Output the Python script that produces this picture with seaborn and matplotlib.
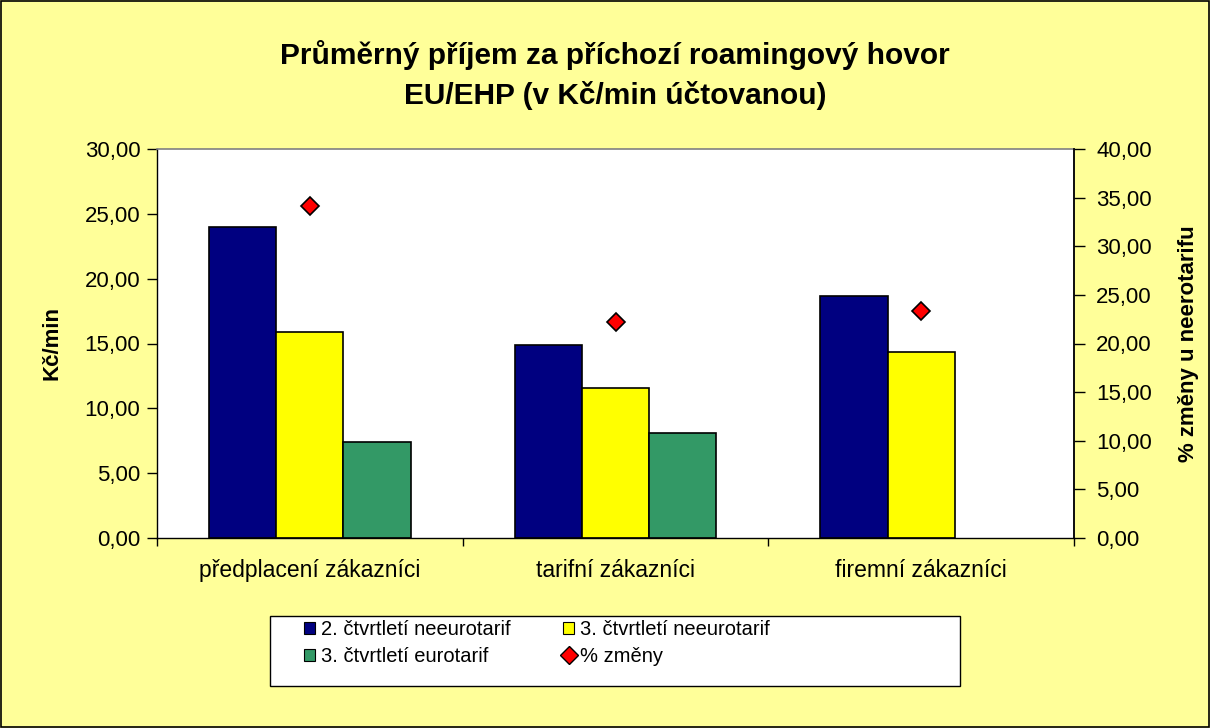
import matplotlib
matplotlib.use("Agg")
import matplotlib.pyplot as plt
import seaborn as sns
import pandas as pd
import numpy as np
from matplotlib.ticker import FuncFormatter, FixedLocator
from matplotlib.patches import Patch, Rectangle
from matplotlib.lines import Line2D

categories = ["předplacení zákazníci", "tarifní zákazníci", "firemní zákazníci"]
series_names = ["2. čtvrtletí neeurotarif", "3. čtvrtletí neeurotarif", "3. čtvrtletí eurotarif"]
q2_neeuro = [24.0, 14.88, 18.66]
q3_neeuro = [15.85, 11.57, 14.34]
q3_euro = [7.40, 8.10, np.nan]
pct_change = [34.1, 22.2, 23.3]
pct_name = "% změny"

colors = ["#000080", "#FFFF00", "#339966"]
bg = "#FFFF99"

sns.set_theme(style="white")
plt.rcParams["font.family"] = ["Liberation Sans", "DejaVu Sans"]
plt.rcParams["text.color"] = "black"
plt.rcParams["axes.labelcolor"] = "black"
plt.rcParams["xtick.color"] = "black"
plt.rcParams["ytick.color"] = "black"

df = pd.DataFrame({
    "kat": categories * 3,
    "serie": [series_names[0]] * 3 + [series_names[1]] * 3 + [series_names[2]] * 3,
    "hodnota": q2_neeuro + q3_neeuro + q3_euro,
})

W, H = 1210, 728
fig = plt.figure(figsize=(12.1, 7.28), dpi=100, facecolor=bg)
fig.patches.append(Rectangle((0.001, 0.001), 0.998, 0.998, transform=fig.transFigure,
                             fill=False, edgecolor="black", linewidth=1.2))
ax = fig.add_axes([157 / W, 1 - 538 / H, (1074 - 157) / W, (538 - 149) / H])
ax.set_facecolor("white")

sns.barplot(data=df, x="kat", y="hodnota", hue="serie", hue_order=series_names,
            order=categories, palette=colors, saturation=1, width=0.66, gap=0, dodge=True,
            edgecolor="black", linewidth=1.2, ax=ax, legend=False, errorbar=None)

ax.set_ylim(0, 30)
ax.set_xlim(-0.5, 2.5)
ax.set_yticks(np.arange(0, 30.01, 5))
fmt = FuncFormatter(lambda v, p: f"{v:.2f}".replace(".", ","))
ax.yaxis.set_major_formatter(fmt)
ax.tick_params(axis="y", labelsize=16, length=7, width=1, direction="out", left=True, color="black", pad=5)
ax.tick_params(axis="x", labelsize=16.5, length=0, pad=15)
ax.xaxis.set_minor_locator(FixedLocator([-0.5, 0.5, 1.5, 2.5]))
ax.tick_params(axis="x", which="minor", length=6, width=1, color="black", bottom=True)
ax.set_xlabel("")
ax.set_ylabel("Kč/min", fontsize=16, fontweight="bold", labelpad=16)
for s in ["top", "right"]:
    ax.spines[s].set_color("#808080")
    ax.spines[s].set_linewidth(1.2)
for s in ["left", "bottom"]:
    ax.spines[s].set_color("black")
    ax.spines[s].set_linewidth(1)

ax2 = ax.twinx()
sns.pointplot(x=categories, y=pct_change, order=categories, ax=ax2, linestyle="none",
              markers="D", color="red", markersize=9, markeredgecolor="black",
              markeredgewidth=1.2, errorbar=None)
ax2.set_ylim(0, 40)
ax2.set_xlim(-0.5, 2.5)
ax2.set_yticks(np.arange(0, 40.01, 5))
ax2.yaxis.set_major_formatter(fmt)
ax2.tick_params(axis="y", labelsize=16, length=8, width=1, direction="out", right=True, color="black", pad=8)
ax2.set_ylabel("% změny u neerotarifu", fontsize=16, fontweight="bold", labelpad=19)
for s in ax2.spines.values():
    s.set_visible(False)
ax2.spines["right"].set_visible(True)
ax2.spines["right"].set_color("black")

fig.text(615 / W, 1 - 75 / H, "Průměrný příjem za příchozí roamingový hovor\nEU/EHP (v Kč/min účtovanou)",
         ha="center", va="center", fontsize=21.5, fontweight="bold", linespacing=1.45)

# legend box
fig.patches.append(Rectangle((270 / W, 1 - 686 / H), (960 - 270) / W, (686 - 616) / H,
                             transform=fig.transFigure, facecolor="white", edgecolor="black",
                             linewidth=1, zorder=1))
handles = [
    Patch(facecolor=colors[0], edgecolor="black", linewidth=0.8),
    Patch(facecolor=colors[2], edgecolor="black", linewidth=0.8),
    Patch(facecolor=colors[1], edgecolor="black", linewidth=0.8),
    Line2D([], [], linestyle="none", marker="D", color="red", markeredgecolor="black", markersize=9),
]
labels = [series_names[0], series_names[2], series_names[1], pct_name]
leg = fig.legend(handles, labels, loc="upper left", bbox_to_anchor=(300 / W, 1 - 616 / H), ncol=2,
                 fontsize=14.5, frameon=False,
                 handlelength=0.55, handleheight=0.55, handletextpad=0.3, columnspacing=2.6,
                 borderpad=0.2, labelspacing=0.4, borderaxespad=0)
leg.set_zorder(5)

fig.savefig("out.png", dpi=100, facecolor=bg)
